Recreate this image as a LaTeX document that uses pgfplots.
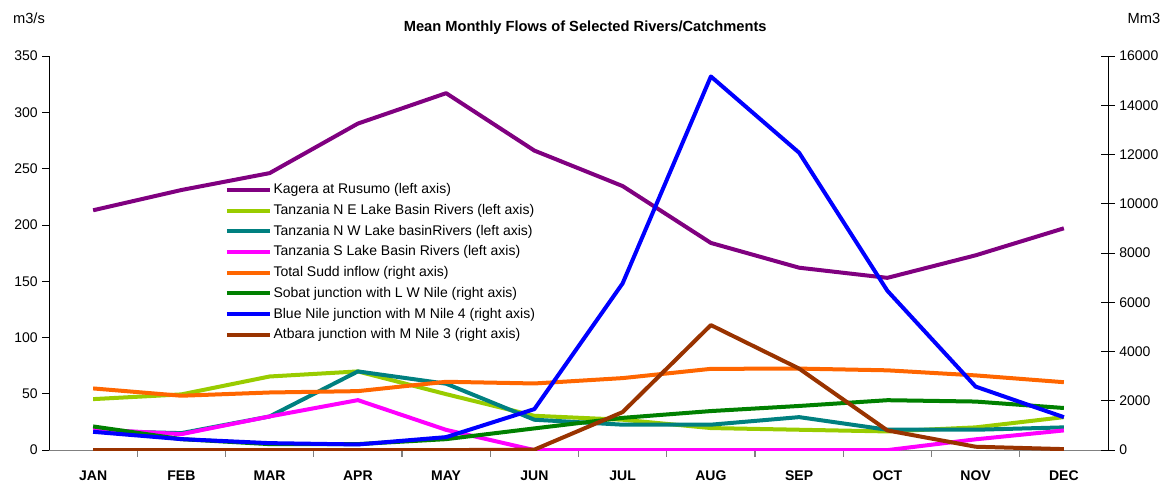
\documentclass[border=0pt]{standalone}
\usepackage{pgfplots}
\pgfplotsset{compat=1.18}
\usepackage{fontspec}
\setmainfont{Liberation Sans}
\definecolor{kagera}{HTML}{800080}
\definecolor{nelake}{HTML}{99CC00}
\definecolor{nwlake}{HTML}{008080}
\definecolor{slake}{HTML}{FF00FF}
\definecolor{sudd}{HTML}{FF6600}
\definecolor{sobat}{HTML}{008000}
\definecolor{bluenile}{HTML}{0000FF}
\definecolor{atbara}{HTML}{993300}
\pgfplotsset{
  flows/.style={
    scale only axis, width=794pt, height=295.5pt,
    xmin=-0.5, xmax=11.5, ymin=0,
    clip mode=individual,
    /pgf/number format/assume math mode=true,
    tick label style={font=\fontsize{10.5}{12}\selectfont},
    every axis plot/.append style={line width=3pt, line join=round, mark=none},
  },
}

\begin{document}
\begin{tikzpicture}
% left axis: m3/s
\begin{axis}[flows,
  ymax=350, ytick={0,50,...,350},
  axis x line*=bottom, axis y line*=left,
  x axis line style={gray, line width=0.8pt},
  y axis line style={black, line width=0.6pt},
  ytick style={black, line width=0.6pt},
  tick align=outside, major tick length=5pt,
  xtick={0.5,1.5,...,10.5}, xticklabels={},
  xtick style={gray, line width=0.8pt},
  extra x ticks={0,1,...,11},
  extra x tick labels={JAN,FEB,MAR,APR,MAY,JUN,JUL,AUG,SEP,OCT,NOV,DEC},
  extra x tick style={major tick length=0pt,
    tick label style={font=\bfseries\fontsize{10.5}{12}\selectfont, yshift=-12pt}},
]
\addplot[kagera] coordinates {(0,213) (1,231) (2,246) (3,290) (4,317) (5,266) (6,234.5) (7,184) (8,162) (9,153) (10,173) (11,197)};
\addplot[nelake] coordinates {(0,45.3) (1,49.5) (2,65.4) (3,69.9) (4,49.7) (5,30.5) (6,27) (7,19.6) (8,18.1) (9,16.6) (10,20.2) (11,29.3)};
\addplot[nwlake] coordinates {(0,17) (1,15.1) (2,29.9) (3,69.9) (4,59) (5,27) (6,22.6) (7,22.6) (8,29.3) (9,18.1) (10,18.1) (11,20.2)};
\addplot[slake] coordinates {(0,18.5) (1,14.2) (2,29.9) (3,44.4) (4,18) (5,0) (6,0) (7,0) (8,0) (9,0) (10,9.6) (11,17.5)};
\coordinate (bl) at (rel axis cs:0,0);
\coordinate (tr) at (rel axis cs:1,1);
\node[font=\fontsize{11}{13}\selectfont] at ([xshift=-15pt,yshift=28.5pt]rel axis cs:0,1) {m3/s};
\node[font=\bfseries\fontsize{11}{13}\selectfont] at ([xshift=5pt,yshift=21pt]rel axis cs:0.5,1) {Mean Monthly Flows of Selected Rivers/Catchments};
\end{axis}
% right axis: Mm3
\begin{axis}[flows,
  ymax=16000, ytick={0,2000,...,16000},
  scaled y ticks=false,
  yticklabel style={/pgf/number format/1000 sep={}},
  axis y line*=right, axis x line=none,
  y axis line style={black, line width=0.6pt},
  ytick style={black, line width=0.6pt},
  tick align=center, major tick length=10pt,
  legend style={at={(0.162,0.69)}, anchor=north west, draw=none, fill=none,
    font=\fontsize{10.5}{12}\selectfont, row sep=2.4pt,
    nodes={inner xsep=1.5pt}},
  legend cell align=left,
  legend image code/.code={\draw[#1, line width=3pt] (0pt,0pt) -- (32pt,0pt);},
]
\addlegendimage{kagera}
\addlegendentry{Kagera at Rusumo (left axis)}
\addlegendimage{nelake}
\addlegendentry{Tanzania N E Lake Basin Rivers (left axis)}
\addlegendimage{nwlake}
\addlegendentry{Tanzania N W Lake basinRivers (left axis)}
\addlegendimage{slake}
\addlegendentry{Tanzania S Lake Basin Rivers (left axis)}
\addplot[sudd] coordinates {(0,2505) (1,2208) (2,2340) (3,2395) (4,2775) (5,2706) (6,2924) (7,3300) (8,3310) (9,3240) (10,3034) (11,2758)};
\addlegendentry{Total Sudd inflow (right axis)}
\addplot[sobat] coordinates {(0,962) (1,446) (2,244) (3,244) (4,446) (5,882) (6,1310) (7,1586) (8,1793) (9,2027) (10,1972) (11,1710)};
\addlegendentry{Sobat junction with L W Nile (right axis)}
\addplot[bluenile] coordinates {(0,744) (1,446) (2,284) (3,230) (4,528) (5,1665) (6,6770) (7,15170) (8,12074) (9,6470) (10,2579) (11,1338)};
\addlegendentry{Blue Nile junction with M Nile 4 (right axis)}
\addplot[atbara] coordinates {(0,0) (1,0) (2,0) (3,0) (4,0) (5,20) (6,1544) (7,5076) (8,3310) (9,800) (10,138) (11,41)};
\addlegendentry{Atbara junction with M Nile 3 (right axis)}
\node[font=\fontsize{11}{13}\selectfont] at ([xshift=27pt,yshift=28.5pt]rel axis cs:1,1) {Mm3};
\end{axis}
\pgfresetboundingbox
\path ([xshift=-36.75pt,yshift=-29.25pt]bl) rectangle ([xshift=45pt,yshift=42pt]tr);
\end{tikzpicture}
\end{document}
